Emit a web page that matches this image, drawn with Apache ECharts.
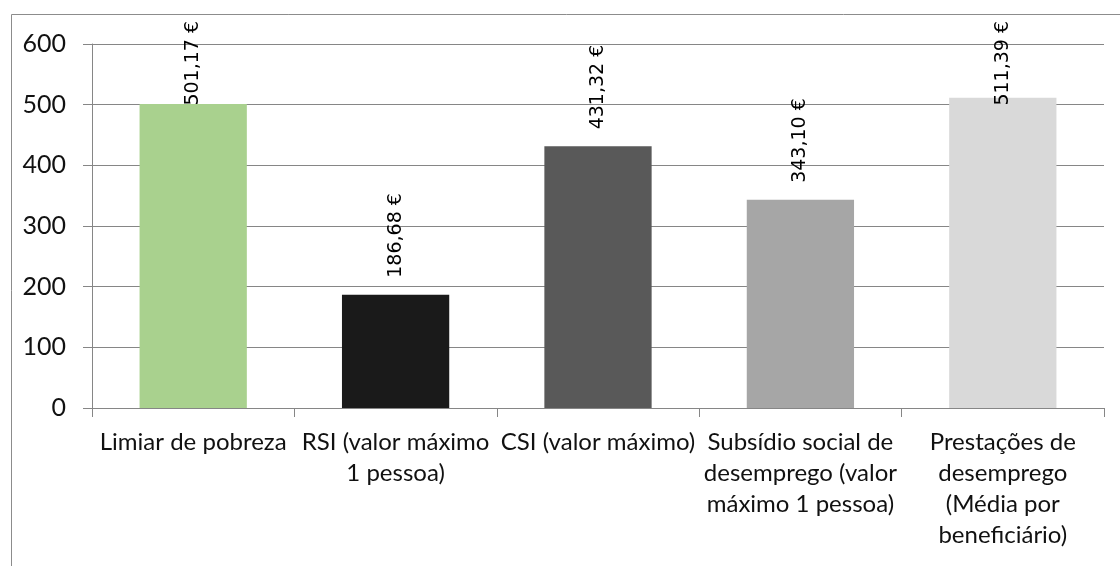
<!DOCTYPE html>
<html>
<head>
<meta charset="utf-8">
<script src="https://cdn.jsdelivr.net/npm/echarts@6/dist/echarts.min.js"></script>
<style>
  html, body { margin: 0; padding: 0; background: #ffffff; }
  #chart { width: 1120px; height: 566px; }
</style>
</head>
<body>
<div id="chart"></div>
<script>
// Monthly amounts (€) compared against the poverty threshold
const categories = [
  'Limiar de pobreza',
  'RSI (valor máximo\n1 pessoa)',
  'CSI (valor máximo)',
  'Subsídio social de\ndesemprego (valor\nmáximo 1 pessoa)',
  'Prestações de\ndesemprego\n(Média por\nbeneficiário)'
];
const values = [501.17, 186.68, 431.32, 343.10, 511.39];
const barColors = ['#a9d18e', '#1a1a1a', '#595959', '#a6a6a6', '#d9d9d9'];
const yTicks = { min: 0, max: 600, interval: 100 };

const LABEL_FAMILY = 'DejaVu Sans';
const LABEL_SIZE = 19;
const LABEL_GAP = 17;       // gap between bar top and its value label
const LABEL_TOP_LIMIT = 21; // labels never rise above this line

function fmt(v) {
  return v.toFixed(2).replace('.', ',') + ' €';
}

const chart = echarts.init(document.getElementById('chart'), null, { renderer: 'canvas' });

function buildData(distances) {
  return values.map((v, i) => ({
    value: v,
    itemStyle: { color: barColors[i] },
    label: { distance: distances ? distances[i] : LABEL_GAP }
  }));
}

const option = {
  animation: false,
  backgroundColor: '#ffffff',
  grid: { left: 92, right: 16, top: 44, bottom: 158 },
  graphic: [{
    type: 'rect',
    shape: { x: 11.5, y: 14.5, width: 1200, height: 700 },
    style: { fill: 'none', stroke: '#8c8c8c', lineWidth: 1 },
    silent: true, z: -10
  }],
  xAxis: {
    type: 'category',
    data: categories,
    axisLine: { lineStyle: { color: '#868686', width: 1 } },
    axisTick: { show: true, length: 9, alignWithLabel: false, lineStyle: { color: '#868686' } },
    axisLabel: {
      interval: 0,
      margin: 19,
      color: '#111111',
      fontFamily: 'Lato',
      fontSize: 24,
      lineHeight: 31,
      align: 'center'
    }
  },
  yAxis: {
    type: 'value',
    min: yTicks.min,
    max: yTicks.max,
    interval: yTicks.interval,
    axisLine: { show: true, lineStyle: { color: '#868686', width: 1 } },
    axisTick: { show: true, length: 9, lineStyle: { color: '#868686' } },
    splitLine: { lineStyle: { color: '#868686', width: 1 } },
    axisLabel: {
      margin: 26,
      color: '#111111',
      fontFamily: 'Lato',
      fontSize: 25
    }
  },
  series: [{
    type: 'bar',
    barWidth: '53%',
    data: buildData(null),
    label: {
      show: true,
      position: 'top',
      rotate: 90,
      align: 'left',
      verticalAlign: 'middle',
      color: '#000000',
      fontFamily: LABEL_FAMILY,
      fontSize: LABEL_SIZE,
      formatter: p => fmt(p.value)
    }
  }]
};

chart.setOption(option);

// Pull labels down where they would run past the top of the chart box
const ctx = document.createElement('canvas').getContext('2d');
ctx.font = LABEL_SIZE + 'px "' + LABEL_FAMILY + '"';
const distances = values.map(v => {
  const barTop = chart.convertToPixel({ yAxisIndex: 0 }, v);
  const len = ctx.measureText(fmt(v)).width;
  const top = barTop - LABEL_GAP - len;
  return top < LABEL_TOP_LIMIT ? barTop - LABEL_TOP_LIMIT - len : LABEL_GAP;
});
chart.setOption({ series: [{ data: buildData(distances) }] });
</script>
</body>
</html>
